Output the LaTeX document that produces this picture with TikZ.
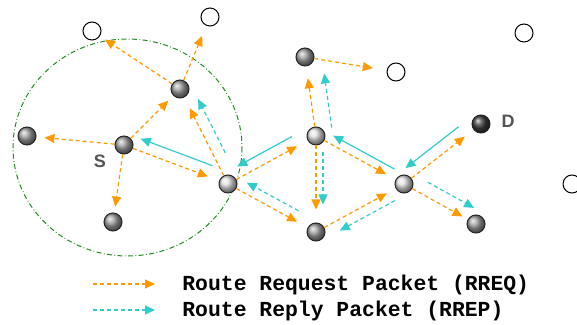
\documentclass[tikz,border=0pt]{standalone}
\usepackage{fontspec}
\newfontfamily\legendfont{Liberation Mono}
\newfontfamily\labelfont{Liberation Sans}
\usetikzlibrary{arrows.meta}
\definecolor{reqorange}{RGB}{255,153,0}
\definecolor{repcyan}{RGB}{51,204,204}
\definecolor{rangegreen}{RGB}{34,139,34}
\definecolor{labelgray}{RGB}{85,85,85}
\tikzset{
  mynode/.style = {circle, draw=black!85, line width=0.5pt, minimum size=9pt, inner sep=0pt, ball color=gray!75},
  mylight/.style = {mynode, ball color=gray!25},
  mydark/.style = {mynode, ball color=black!75},
  myempty/.style = {circle, draw=black, line width=0.5pt, minimum size=9pt, inner sep=0pt, fill=white},
  myreq/.style = {-{Triangle[length=5pt,width=4.5pt]}, reqorange, line width=0.6pt, dash pattern=on 2pt off 1.5pt},
  myrep/.style = {-{Triangle[length=5pt,width=4.5pt]}, repcyan, line width=0.6pt},
  myrepdash/.style = {myrep, dash pattern=on 2pt off 1.5pt},
  myrange/.style = {rangegreen, line width=0.5pt, dash pattern=on 2.5pt off 1.2pt on 0.4pt off 1.2pt},
  mylabel/.style = {font=\labelfont\bfseries\fontsize{9}{10}\selectfont, text=labelgray},
  mylegend/.style = {font=\legendfont\bfseries\fontsize{10.7}{12}\selectfont, anchor=west, inner sep=0pt},
}
\begin{document}
\begin{tikzpicture}[x=0.5pt, y=-0.5pt]
\useasboundingbox (0,0) rectangle (577,325);
% range of S
\draw[myrange] (127.5,147.5) ellipse [x radius=114.5, y radius=108.5];

\node (w1) [myempty] at (92,31) {};
\node (w2) [myempty] at (210,17) {};
\node (w3) [myempty] at (396,72) {};
\node (w4) [myempty] at (524,33) {};
\node (w5) [myempty] at (572,184) {};
\node (s)  [mynode]  at (124,145) {};
\node (n1) [mynode]  at (27,136) {};
\node (n2) [mynode]  at (113,222) {};
\node (n3) [mynode]  at (180,89) {};
\node (n4) [mylight] at (228,184) {};
\node (n5) [mynode]  at (305,57) {};
\node (n6) [mylight] at (316,136) {};
\node (n7) [mynode]  at (316,232) {};
\node (n8) [mylight] at (404,184) {};
\node (n9) [mynode]  at (476,224) {};
\node (d)  [mydark]  at (481,124) {};
\node (slabel) [mylabel] at (100,161) {S};
\node (dlabel) [mylabel] at (508,121) {D};

% RREQ flooding
\foreach \u/\v/\g in {s/n1/4, s/n2/3, s/n3/3.5, s/n4/6, n3/w1/3, n3/w2/5.5, n4/n3/6, n4/n6/6, n4/n7/6,
  n6/n5/6, n5/w3/7, n6/n7/6.5, n6/n8/5.5, n7/n8/5, n8/d/5.5, n8/n9/3}{
  \draw[myreq, shorten >=\g pt] (\u) -- (\v);
}

% RREP back to S
\foreach \u/\v/\dx/\dy/\ss/\se in {n4/s/4/-11/5.7/2, n6/n4/-5.3/-9.7/6/3.5, n8/n6/4.1/-7.5/3/2.7, d/n8/-7.1/-9.2/5/0.7}{
  \draw[myrep, transform canvas={shift={(\dx,\dy)}}, shorten <=\ss pt, shorten >=\se pt] (\u) -- (\v);
}
\foreach \u/\v/\dx/\dy/\ss/\se in {n4/n3/10.4/-5.2/9.8/3.8, n6/n5/16.5/-2.5/-1.75/4.8, n6/n7/7/0/3.5/9,
  n7/n4/4.9/-9/8/3.2, n8/n7/4.9/8.9/3.3/6, n8/n9/6.4/-11.5/5.3/0}{
  \draw[myrepdash, transform canvas={shift={(\dx,\dy)}}, shorten <=\ss pt, shorten >=\se pt] (\u) -- (\v);
}

% legend
\coordinate (req0) at (93,284);
\coordinate (req1) at (155,284);
\coordinate (rep0) at (93,310);
\coordinate (rep1) at (155,310);
\draw[myreq] (req0) -- (req1);
\draw[myrepdash] (rep0) -- (rep1);
\node (reqtext) [mylegend] at (182,284.5) {Route Request Packet (RREQ)};
\node (reptext) [mylegend] at (182,310.5) {Route Reply Packet (RREP)};
\end{tikzpicture}
\end{document}
